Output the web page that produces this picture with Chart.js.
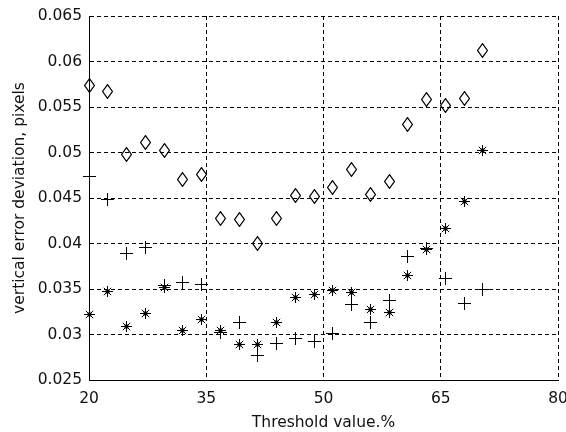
<!DOCTYPE html>
<html>
<head>
<meta charset="utf-8">
<script src="https://cdn.jsdelivr.net/npm/chart.js@4/dist/chart.umd.min.js"></script>
<style>
  html, body { margin: 0; padding: 0; background: #fff; }
  #wrap { width: 566px; height: 432px; }
</style>
</head>
<body>
<div id="wrap"><canvas id="errChart" width="566" height="432"></canvas></div>
<script>
'use strict';

// ── Data ─────────────────────────────────────────────────────────
const thresholds = [20, 22.4, 24.8, 27.2, 29.6, 32, 34.4, 36.8, 39.2, 41.6, 44,
  46.4, 48.8, 51.2, 53.6, 56, 58.4, 60.8, 63.2, 65.6, 68, 70.4];

const diamondVals = [0.0574, 0.0567, 0.0498, 0.0511, 0.0502, 0.0470, 0.0476,
  0.0427, 0.0426, 0.0400, 0.0427, 0.0453, 0.0452, 0.0461, 0.0481, 0.0454,
  0.0468, 0.0531, 0.0558, 0.0552, 0.0559, 0.0612];

const plusVals = [0.0474, 0.0448, 0.0389, 0.0396, 0.0354, 0.0357, 0.0355,
  0.0302, 0.0313, 0.0277, 0.0290, 0.0296, 0.0292, 0.0301, 0.0333, 0.0313,
  0.0337, 0.0386, 0.0394, 0.0362, 0.0334, 0.0349];

const starVals = [0.0322, 0.0347, 0.0309, 0.0323, 0.0352, 0.0304, 0.0317,
  0.0304, 0.0289, 0.0289, 0.0313, 0.0341, 0.0344, 0.0348, 0.0346, 0.0327,
  0.0324, 0.0365, 0.0393, 0.0416, 0.0446, 0.0502];

const xTicks = [20, 35, 50, 65, 80];
const yTicks = [0.025, 0.03, 0.035, 0.04, 0.045, 0.05, 0.055, 0.06, 0.065];

// ── Marker glyphs ────────────────────────────────────────────────
function glyph(w, h, lw, draw) {
  const c = document.createElement('canvas');
  c.width = w;
  c.height = h;
  const g = c.getContext('2d');
  g.strokeStyle = '#000';
  g.fillStyle = '#000';
  g.lineWidth = lw;
  draw(g);
  return c;
}

const diamond = glyph(11, 15, 1.2, (g) => {
  g.beginPath();
  g.moveTo(5.5, 0.6);
  g.lineTo(10.4, 7.5);
  g.lineTo(5.5, 14.4);
  g.lineTo(0.6, 7.5);
  g.closePath();
  g.stroke();
});

const plus = glyph(13, 13, 1, (g) => {
  g.beginPath();
  g.moveTo(6.5, 0); g.lineTo(6.5, 13);
  g.moveTo(0, 6.5); g.lineTo(13, 6.5);
  g.stroke();
});

const star = glyph(11, 11, 1, (g) => {
  g.beginPath();
  g.moveTo(5.5, 0); g.lineTo(5.5, 11);
  g.moveTo(0, 5.5); g.lineTo(11, 5.5);
  g.moveTo(1.8, 1.8); g.lineTo(9.2, 9.2);
  g.moveTo(9.2, 1.8); g.lineTo(1.8, 9.2);
  g.stroke();
  g.beginPath();
  g.arc(5.5, 5.5, 2.2, 0, Math.PI * 2);
  g.fill();
});

// ── Chart ────────────────────────────────────────────────────────
const FONT = { family: '"DejaVu Sans", sans-serif', size: 15.5 };
const INK = '#111';

const toPoints = (ys) => thresholds.map((x, i) => ({ x, y: ys[i] }));

function series(label, ys, style) {
  return {
    label,
    data: toPoints(ys),
    pointStyle: style,
    pointRadius: 7,
    clip: false,
    showLine: false,
  };
}

const gridOpts = { color: '#000', lineWidth: 1, drawTicks: false };
const borderOpts = { display: true, color: '#000', width: 1, dash: [4, 3] };

new Chart(document.getElementById('errChart'), {
  type: 'scatter',
  data: {
    datasets: [
      series('diamonds', diamondVals, diamond),
      series('plus', plusVals, plus),
      series('star', starVals, star),
    ],
  },
  options: {
    responsive: false,
    animation: false,
    events: [],
    layout: { padding: { top: 16, right: 6, left: 0, bottom: 0 } },
    plugins: { legend: { display: false }, tooltip: { enabled: false } },
    scales: {
      x: {
        type: 'linear',
        min: 20,
        max: 80,
        afterBuildTicks: (s) => { s.ticks = xTicks.map((v) => ({ value: v })); },
        afterFit: (s) => { s.height = 52; s.paddingLeft = 0; s.paddingRight = 0; },
        grid: gridOpts,
        border: borderOpts,
        ticks: { color: INK, font: FONT, padding: 10, maxRotation: 0 },
        title: {
          display: true,
          text: 'Threshold value.%',
          color: INK,
          font: FONT,
          padding: { top: 0, bottom: 0 },
        },
      },
      y: {
        type: 'linear',
        min: 0.025,
        max: 0.065,
        afterBuildTicks: (s) => { s.ticks = yTicks.map((v) => ({ value: v })); },
        afterFit: (s) => { s.width = 89; s.paddingTop = 0; s.paddingBottom = 0; },
        grid: gridOpts,
        border: borderOpts,
        ticks: {
          color: INK,
          font: FONT,
          padding: 7,
          callback: (v) => String(Number(v.toFixed(3))),
        },
        title: {
          display: true,
          text: 'vertical error deviation, pixels',
          color: INK,
          font: FONT,
          padding: { top: 11, bottom: 0 },
        },
      },
    },
  },
  plugins: [{
    // keep the marker glyphs crisp like the original bitmap
    id: 'crispMarkers',
    beforeDatasetsDraw(chart) { chart.ctx.imageSmoothingEnabled = false; },
    afterDatasetsDraw(chart) { chart.ctx.imageSmoothingEnabled = true; },
  }],
});
</script>
</body>
</html>
